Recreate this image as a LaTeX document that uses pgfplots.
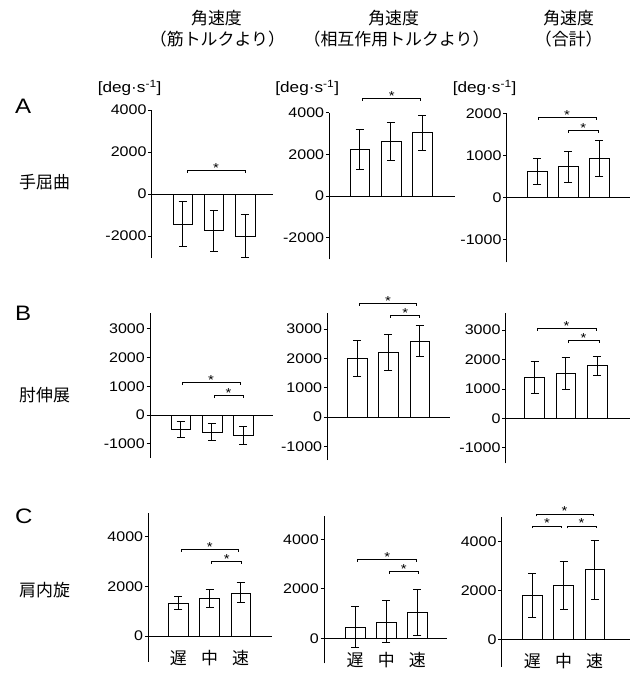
\documentclass[border=0pt]{standalone}
\usepackage{pgfplots}
\pgfplotsset{compat=1.18}
\usepackage{fontspec}
\setmainfont{Liberation Sans}[FakeStretch=1.15]
\newfontfamily\jp{Noto Sans CJK JP}

\pgfplotsset{
  panel/.style={
    scale only axis,
    axis x line=none,
    axis y line=left,
    y axis line style={-, line width=0.8bp},
    anchor=south west,
    clip=false,
    xtick=\empty,
    tick align=outside,
    major tick length=3.5bp,
    ytick style={line width=0.8bp, black},
    scaled y ticks=false,
    yticklabel={\pgfmathprintnumber[assume math mode=true,fixed,1000 sep={},precision=0]{\tick}},
    yticklabel style={font=\fontsize{14}{14}\selectfont, inner sep=1.5bp},
    ybar, bar width=0.63,
    cycle list={{draw=black, fill=white, line width=0.8bp}},
    error bars/y dir=both, error bars/y explicit,
    error bars/error bar style={line width=0.8bp, black},
    error bars/error mark=-,
    error bars/error mark options={rotate=90, mark size=4bp, line width=0.8bp, black},
  }
}
\newcommand{\brk}[3]{\draw[line width=0.8bp] (axis cs:#1,#3) ++(0bp,-2.5bp) -- ++(0bp,2.5bp) -- node[midway, anchor=base, yshift=-2bp, inner sep=0, font=\fontsize{13}{13}\selectfont]{*} (axis cs:#2,#3) -- ++(0bp,-2.5bp);}
\newcommand{\jpf}{\jp\fontsize{17}{17}\selectfont}
\newcommand{\unit}{[deg·s\textsuperscript{-1}]}

\begin{document}
\begin{tikzpicture}
\useasboundingbox (0,0) rectangle (630bp,-673bp);
% headers
\node[font=\jpf] at (216.5bp,-17.6bp) {角速度};
\node[font=\jp\fontsize{17}{17}\selectfont] at (217.5bp,-39.3bp) {（筋トルクより）};
\node[font=\jpf] at (393.7bp,-17.6bp) {角速度};
\node[font=\jp\fontsize{17}{17}\selectfont] at (396.6bp,-39.3bp) {（相互作用トルクより）};
\node[font=\jpf] at (568.7bp,-17.6bp) {角速度};
\node[font=\jp\fontsize{17}{17}\selectfont] at (568.7bp,-39.3bp) {（合計）};
% row labels
\node[font=\fontsize{21}{21}\selectfont, anchor=west, inner sep=0] at (15bp,-106.8bp) {A};
\node[font=\jpf, anchor=west, inner sep=0] at (19bp,-182bp) {手屈曲};
\node[font=\fontsize{21}{21}\selectfont, anchor=west, inner sep=0] at (15bp,-313.3bp) {B};
\node[font=\jpf, anchor=west, inner sep=0] at (19bp,-395bp) {肘伸展};
\node[font=\fontsize{21}{21}\selectfont, anchor=west, inner sep=0] at (15bp,-516.7bp) {C};
\node[font=\jpf, anchor=west, inner sep=0] at (19bp,-590bp) {肩内旋};
% unit labels
\node[font=\fontsize{15}{15}\selectfont, anchor=east, inner sep=0] at (161.7bp,-88bp) {\unit};
\node[font=\fontsize{15}{15}\selectfont, anchor=east, inner sep=0] at (339.3bp,-88bp) {\unit};
\node[font=\fontsize{15}{15}\selectfont, anchor=east, inner sep=0] at (516.7bp,-88bp) {\unit};

% ---------------- Row A ----------------
\begin{axis}[panel, at={(151.7bp,-258.05bp)}, width=121.37bp, height=148.05bp,
  xmin=-0.99, xmax=2.9, ymin=-3050, ymax=4000, ytick={-2000,0,2000,4000}]
\addplot coordinates {(0,-1420) +- (0,1080) (1,-1735) +- (0,975) (2,-1990) +- (0,1010)};
\draw[line width=0.8bp] (axis cs:-0.99,0) -- (axis cs:2.9,0);
\brk{0.15}{2.0}{1110}
\end{axis}

\begin{axis}[panel, at={(329.3bp,-259.44bp)}, width=125.55bp, height=146.64bp,
  xmin=-0.974, xmax=3.05, ymin=-3050, ymax=4000, ytick={-2000,0,2000,4000}]
\addplot coordinates {(0,2240) +- (0,960) (1,2630) +- (0,930) (2,3045) +- (0,835)};
\draw[line width=0.8bp] (axis cs:-0.974,0) -- (axis cs:3.05,0);
\brk{0.1}{1.95}{4700}
\end{axis}

\begin{axis}[panel, at={(506.7bp,-262.4bp)}, width=122.96bp, height=149.1bp,
  xmin=-0.971, xmax=2.97, ymin=-1550, ymax=2000, ytick={-1000,0,1000,2000}]
\addplot coordinates {(0,610) +- (0,310) (1,730) +- (0,365) (2,920) +- (0,430)};
\draw[line width=0.8bp] (axis cs:-0.971,0) -- (axis cs:2.97,0);
\brk{0.03}{1.9}{1905}
\brk{1.0}{1.97}{1600}
\end{axis}

% ---------------- Row B ----------------
\begin{axis}[panel, at={(150bp,-458.2bp)}, width=123.36bp, height=145.44bp,
  xmin=-0.984, xmax=2.97, ymin=-1500, ymax=3550, ytick={-1000,0,1000,2000,3000}]
\addplot coordinates {(0,-510) +- (0,280) (1,-580) +- (0,290) (2,-715) +- (0,305)};
\draw[line width=0.8bp] (axis cs:-0.984,0) -- (axis cs:2.97,0);
\brk{0.05}{1.9}{1125}
\brk{1.07}{2.0}{670}
\end{axis}

\begin{axis}[panel, at={(327.3bp,-460.07bp)}, width=122.87bp, height=146.79bp,
  xmin=-0.958, xmax=2.98, ymin=-1470, ymax=3540, ytick={-1000,0,1000,2000,3000}]
\addplot coordinates {(0,2000) +- (0,630) (1,2210) +- (0,610) (2,2590) +- (0,520)};
\draw[line width=0.8bp] (axis cs:-0.958,0) -- (axis cs:2.98,0);
\brk{0.07}{1.9}{3880}
\brk{1.08}{2.0}{3480}
\end{axis}

\begin{axis}[panel, at={(505.7bp,-463.28bp)}, width=123.96bp, height=149.94bp,
  xmin=-0.923, xmax=3.05, ymin=-1530, ymax=3570, ytick={-1000,0,1000,2000,3000}]
\addplot coordinates {(0,1395) +- (0,550) (1,1540) +- (0,540) (2,1790) +- (0,330)};
\draw[line width=0.8bp] (axis cs:-0.923,0) -- (axis cs:3.05,0);
\brk{0.09}{1.97}{3060}
\brk{1.08}{2.07}{2640}
\end{axis}

% ---------------- Row C ----------------
\begin{axis}[panel, at={(148.3bp,-661.67bp)}, width=123.3bp, height=148.43bp,
  xmin=-0.962, xmax=2.99, ymin=-1035, ymax=4950, ytick={0,2000,4000}]
\addplot coordinates {(0,1340) +- (0,250) (1,1520) +- (0,360) (2,1745) +- (0,405)};
\draw[line width=0.8bp] (axis cs:-0.962,0) -- (axis cs:2.99,0);
\brk{0.09}{1.93}{3500}
\brk{1.07}{2.03}{2995}
\node[font=\jpf] at (axis cs:0,0) [yshift=-22bp] {遅};
\node[font=\jpf] at (axis cs:1,0) [yshift=-22bp] {中};
\node[font=\jpf] at (axis cs:2,0) [yshift=-22bp] {速};
\end{axis}

\begin{axis}[panel, at={(324bp,-663.3bp)}, width=122.74bp, height=147.51bp,
  xmin=-0.994, xmax=2.94, ymin=-1010, ymax=4950, ytick={0,2000,4000}]
\addplot coordinates {(0,455) +- (0,830) (1,670) +- (0,850) (2,1045) +- (0,935)};
\draw[line width=0.8bp] (axis cs:-0.994,0) -- (axis cs:2.94,0);
\brk{0.09}{1.97}{3200}
\brk{1.09}{2.04}{2715}
\node[font=\jpf] at (axis cs:0,0) [yshift=-22bp] {遅};
\node[font=\jpf] at (axis cs:1,0) [yshift=-22bp] {中};
\node[font=\jpf] at (axis cs:2,0) [yshift=-22bp] {速};
\end{axis}

\begin{axis}[panel, at={(501.7bp,-666.6bp)}, width=127.95bp, height=149.82bp,
  xmin=-0.981, xmax=3.12, ymin=-1120, ymax=5020, ytick={0,2000,4000}]
\addplot coordinates {(0,1790) +- (0,890) (1,2200) +- (0,975) (2,2855) +- (0,1215)};
\draw[line width=0.8bp] (axis cs:-0.981,0) -- (axis cs:3.12,0);
\brk{0.12}{1.95}{5135}
\brk{0.01}{0.94}{4645}
\brk{1.11}{2.05}{4645}
\node[font=\jpf] at (axis cs:0,0) [yshift=-22bp] {遅};
\node[font=\jpf] at (axis cs:1,0) [yshift=-22bp] {中};
\node[font=\jpf] at (axis cs:2,0) [yshift=-22bp] {速};
\end{axis}
\end{tikzpicture}
\end{document}
